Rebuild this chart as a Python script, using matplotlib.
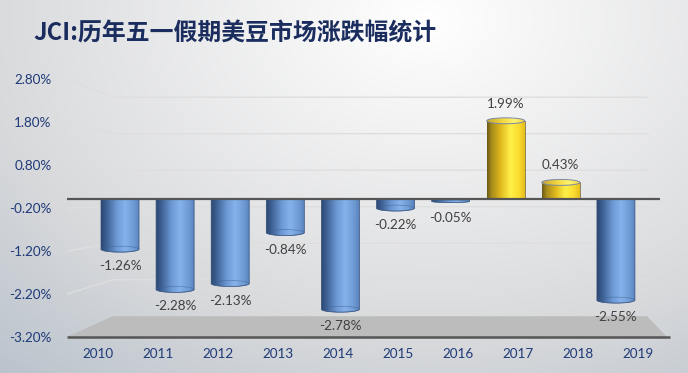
import numpy as np
import matplotlib
matplotlib.use("Agg")
import matplotlib.pyplot as plt
from matplotlib.colors import LinearSegmentedColormap, to_rgb
from matplotlib.path import Path
from matplotlib.patches import PathPatch, Ellipse, Polygon

# ---------------- data ----------------
years = ['2010', '2011', '2012', '2013', '2014', '2015', '2016', '2017', '2018', '2019']
changes = [-1.26, -2.28, -2.13, -0.84, -2.78, -0.22, -0.05, 1.99, 0.43, -2.55]
y_ticks = [-3.2, -2.2, -1.2, -0.2, 0.8, 1.8, 2.8]
y_tick_labels = ['%.2f%%' % t for t in y_ticks]
title = 'JCI:历年五一假期美豆市场涨跌幅统计'

plt.rcParams['font.family'] = ['Lato', 'DejaVu Sans']

W, H = 688, 373
fig = plt.figure(figsize=(W / 100, H / 100), dpi=100)

# ---------------- background gradient ----------------
bg = fig.add_axes([0, 0, 1, 1])
gx, gy = np.meshgrid(np.linspace(0, 1, 400), np.linspace(1, 0, 220))
d = np.sqrt(((gx - 0.62) / 0.75) ** 2 + ((gy - 0.95) / 1.0) ** 2)
c0 = np.array(to_rgb('#ffffff'))
c1 = np.array(to_rgb('#d9dadc'))
c2 = np.array(to_rgb('#b7c1cb'))
t1 = np.clip(d / 0.85, 0, 1)[..., None]
t2 = np.clip((d - 0.85) / 0.45, 0, 1)[..., None]
img = c0 * (1 - t1) + c1 * t1
img = img * (1 - t2) + c2 * t2
bg.imshow(img, extent=[0, 1, 0, 1], aspect='auto', zorder=0)
bg.set_xlim(0, 1)
bg.set_ylim(0, 1)
bg.axis('off')

# ---------------- axes ----------------
left, right, top, bottom = 67, 660, 79, 337
pos = [left / W, 1 - bottom / H, (right - left) / W, (bottom - top) / H]
ymin, ymax = -3.2, 2.8
front_scale = (bottom - top) / (ymax - ymin)      # px per %
bar_scale = 39.5
back_scale = 36.5
kb = front_scale / bar_scale
kback = back_scale / front_scale

ax = fig.add_axes(pos)
ax.patch.set_visible(False)
lab_x0 = -0.517
lab_x1 = lab_x0 + (right - left) / 60.0
ax.set_xlim(lab_x0, lab_x1)
ax.set_ylim(ymin, ymax)
for s in ax.spines.values():
    s.set_visible(False)
ax.set_yticks(y_ticks)
ax.set_yticklabels(y_tick_labels)
ax.set_xticks(range(len(years)))
ax.set_xticklabels(years)
ax.tick_params(axis='both', length=0, colors='#1f3a78', labelsize=9.7)
ax.tick_params(axis='y', pad=11)
ax.tick_params(axis='x', pad=8)

def px_to_labx(px):
    return lab_x0 + (px - left) / 60.0

# back-wall gridlines with perspective
xb0 = px_to_labx(113)
xb1 = px_to_labx(648)
for t in y_ticks[1:]:
    yb = t * kback
    ax.plot([lab_x0, xb0, xb1], [t, yb, yb], color='#dedede', lw=1.0, zorder=1)

# floor
floor = Polygon([(lab_x0, ymin), (xb0, ymin * kback), (px_to_labx(647), ymin * kback),
                 (px_to_labx(667), ymin)], closed=True, facecolor='#bcbcbc',
                edgecolor='none', zorder=1, clip_on=False)
ax.add_patch(floor)
ax.plot([lab_x0, px_to_labx(670)], [ymin, ymin], color='#555555', lw=1.8,
        zorder=2, clip_on=False, solid_capstyle='butt')

# ---------------- bars (cylinders) ----------------
axb = fig.add_axes(pos)
axb.patch.set_visible(False)
axb.axis('off')
bar_x0 = -(120 - left) / 55.1
bar_x1 = bar_x0 + (right - left) / 55.1

blue = LinearSegmentedColormap.from_list('blue', [
    (0.0, '#2c4670'), (0.12, '#3a5c8e'), (0.4, '#6c98d4'), (0.62, '#86b2ec'),
    (0.85, '#6e9ad4'), (1.0, '#5680bb')])
gold = LinearSegmentedColormap.from_list('gold', [
    (0.0, '#6f5a14'), (0.12, '#a88c1c'), (0.35, '#e0b81e'), (0.6, '#fff048'),
    (0.82, '#fadc30'), (1.0, '#e2b81a')])
gold_top = LinearSegmentedColormap.from_list('goldtop', [
    (0.0, '#c8a830'), (0.4, '#f4d840'), (0.7, '#fff470'), (1.0, '#f0d040')])
grad = np.linspace(0, 1, 256).reshape(1, -1)

w = 0.69
h = 0.15
arc_t = np.linspace(0, np.pi, 60)
for i, v in enumerate(changes):
    x0, x1 = i - w / 2, i + w / 2
    cmap = gold if v > 0 else blue
    edge = '#6a5a20' if v > 0 else '#35507a'
    hh = min(h, abs(v) * 1.2) if v < 0 else h
    if v < 0:
        ax_ = i - (w / 2) * np.cos(arc_t)
        ay_ = v - (hh / 2) * np.sin(arc_t)
        verts = [(x0, 0)] + list(zip(ax_, ay_)) + [(x1, 0), (x0, 0)]
        ext = [x0, x1, v - hh / 2, 0]
    else:
        verts = [(x0, 0), (x0, v), (x1, v), (x1, 0), (x0, 0)]
        ext = [x0, x1, 0, v]
    codes = [Path.MOVETO] + [Path.LINETO] * (len(verts) - 2) + [Path.CLOSEPOLY]
    patch = PathPatch(Path(verts, codes), facecolor='none', edgecolor=edge,
                      lw=0.5, zorder=4)
    axb.add_patch(patch)
    im = axb.imshow(grad, extent=ext, aspect='auto', cmap=cmap, zorder=3,
                    interpolation='bilinear')
    im.set_clip_path(patch)
    if v < 0:
        axb.add_patch(Ellipse((i, v), w, hh, fill=False, edgecolor='#3d5f90',
                              lw=0.5, alpha=0.6, zorder=4))
        axb.annotate('%.2f%%' % v, xy=(i, v), xytext=(0, -17),
                     textcoords='offset pixels', ha='center', va='center',
                     fontsize=9.7, color='#404040', zorder=6)
    else:
        top_e = Ellipse((i, v), w, hh, facecolor='none', edgecolor='#7a88a4',
                        lw=0.7, zorder=5)
        axb.add_patch(top_e)
        im2 = axb.imshow(grad, extent=[x0, x1, v - hh / 2, v + hh / 2], aspect='auto',
                         cmap=gold_top, zorder=4.5, interpolation='bilinear')
        im2.set_clip_path(top_e)
        axb.annotate('%.2f%%' % v, xy=(i, v), xytext=(0, 17),
                     textcoords='offset pixels', ha='center', va='center',
                     fontsize=9.7, color='#404040', zorder=6)

axb.axhline(0, color='#555555', lw=1.6, zorder=7)
axb.set_xlim(bar_x0, bar_x1)
axb.set_ylim(ymin * kb, ymax * kb)

# ---------------- title ----------------
fig.text(33 / W, 1 - 33 / H, title, ha='left', va='center', fontsize=17.2,
         fontweight='bold', color='#1b2d5e',
         family=['Noto Sans CJK SC', 'DejaVu Sans'])

fig.savefig('out.png', dpi=100)
